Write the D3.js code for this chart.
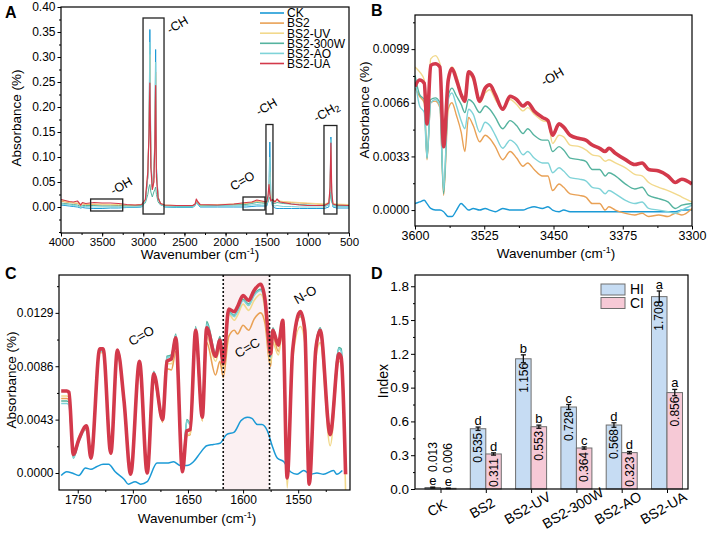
<!DOCTYPE html>
<html><head><meta charset="utf-8">
<script src="https://cdn.jsdelivr.net/npm/d3@7"></script>
<style>body{margin:0;background:#fff}svg{display:block}</style>
</head><body><svg id="c" width="708" height="542"></svg>
<script>
// ---------------- DATA ----------------
const seriesNames = ["CK","BS2","BS2-UV","BS2-300W","BS2-AO","BS2-UA"];

// Panel A: full spectra
const aWave = [4000,3950,3900,3850,3800,3760,3740,3700,3600,3500,3400,3300,3200,3100,3020,2975,2945,2930,2920,2908,2890,2872,2860,2850,2840,2820,2790,2740,2600,2400,2370,2355,2340,2310,2100,1900,1750,1680,1620,1560,1500,1485,1472,1462,1450,1430,1400,1375,1340,1300,1200,1100,1000,900,800,745,730,720,710,695,650,500];
const aCK   = [0.004,0.003,0.002,0.001,0.0,-0.002,-0.001,-0.002,-0.003,-0.003,-0.002,-0.002,-0.001,-0.001,0.0,0.01,0.06,0.16,0.355,0.10,0.04,0.06,0.14,0.315,0.08,0.02,0.006,0.0,-0.001,-0.001,0.003,0.009,0.006,0.0,0.0,0.0,0.0,0.001,0.002,0.002,0.002,0.01,0.04,0.13,0.02,0.002,-0.002,-0.003,-0.003,-0.003,-0.003,-0.003,-0.003,-0.003,-0.003,0.0,0.03,0.14,0.02,0.0,-0.002,-0.002];
const aBS2  = [0.012,0.010,0.009,0.008,0.007,0.003,0.006,0.005,0.005,0.004,0.004,0.003,0.003,0.003,0.004,0.012,0.06,0.15,0.30,0.09,0.035,0.05,0.12,0.27,0.07,0.018,0.006,0.003,0.002,0.002,0.005,0.012,0.008,0.003,0.004,0.005,0.007,0.009,0.011,0.01,0.009,0.015,0.03,0.07,0.02,0.012,0.011,0.013,0.011,0.010,0.009,0.008,0.007,0.006,0.005,0.008,0.03,0.12,0.02,0.006,0.005,0.004];
const aUV   = [0.014,0.012,0.010,0.009,0.008,0.004,0.007,0.006,0.006,0.006,0.005,0.005,0.004,0.004,0.005,0.014,0.07,0.16,0.305,0.09,0.04,0.06,0.13,0.265,0.07,0.02,0.007,0.004,0.003,0.003,0.006,0.013,0.009,0.004,0.005,0.006,0.008,0.010,0.012,0.011,0.010,0.016,0.035,0.06,0.022,0.014,0.012,0.014,0.012,0.011,0.010,0.009,0.008,0.007,0.006,0.009,0.035,0.115,0.025,0.007,0.006,0.005];
const a300W = [0.008,0.007,0.006,0.005,0.004,0.001,0.003,0.003,0.003,0.002,0.002,0.002,0.002,0.002,0.003,0.008,0.025,0.04,0.045,0.03,0.02,0.03,0.035,0.04,0.025,0.01,0.004,0.002,0.001,0.001,0.004,0.010,0.007,0.002,0.003,0.004,0.005,0.007,0.009,0.008,0.007,0.01,0.015,0.02,0.012,0.008,0.007,0.009,0.008,0.007,0.006,0.005,0.004,0.003,0.003,0.005,0.015,0.03,0.01,0.004,0.003,0.003];
const aAO   = [0.006,0.005,0.004,0.003,0.002,-0.001,0.001,0.001,0.0,0.0,0.0,0.0,0.0,0.0,0.001,0.01,0.06,0.16,0.33,0.09,0.04,0.06,0.13,0.29,0.07,0.02,0.005,0.001,0.0,0.0,0.003,0.009,0.006,0.001,0.002,0.002,0.003,0.004,0.005,0.004,0.004,0.012,0.035,0.10,0.02,0.004,0.002,0.003,0.002,0.001,0.001,0.0,0.0,0.0,0.0,0.004,0.03,0.135,0.02,0.002,0.001,0.001];
const aUA   = [0.015,0.013,0.011,0.010,0.012,0.004,0.009,0.007,0.009,0.008,0.008,0.007,0.005,0.004,0.005,0.015,0.07,0.15,0.248,0.08,0.035,0.05,0.12,0.243,0.06,0.018,0.007,0.004,0.003,0.003,0.006,0.016,0.011,0.005,0.004,0.006,0.009,0.010,0.014,0.012,0.010,0.022,0.045,0.025,0.012,0.015,0.010,0.016,0.010,0.009,0.006,0.004,0.003,0.003,0.003,0.008,0.04,0.128,0.03,0.006,0.004,0.003];
const aXTicks = [4000,3500,3000,2500,2000,1500,1000,500];
const aYTicks = [0,0.05,0.10,0.15,0.20,0.25,0.30,0.35,0.40];

// Panel B: -OH region
const bWave = [3600,3595,3590,3587,3583,3578,3573,3569,3564,3560,3555,3550,3546,3542,3537,3530,3524,3519,3513,3505,3497,3490,3483,3478,3471,3462,3456,3451,3444,3439,3432,3422,3415,3408,3400,3394,3390,3383,3372,3362,3354,3347,3336,3326,3318,3311,3300];
const bCK   = [0.0004,0.0005,0.0006,0.0004,0.0001,0.0000,0.0000,-0.0001,-0.0004,-0.0004,0.0000,0.0004,0.0002,0.0000,0.0001,0.0000,0.0001,0.0000,-0.0001,0.0001,0.0000,0.0000,0.0000,0.0001,0.0002,0.0001,0.0002,0.0000,-0.0001,0.0000,-0.0001,-0.0001,-0.0001,-0.0001,-0.0001,-0.0001,-0.0001,-0.0001,-0.0001,-0.0001,-0.0001,-0.0001,-0.0001,-0.0001,-0.0001,0.0000,0.0000];
const bBS2  = [0.0075,0.0070,0.0066,0.0031,0.0066,0.0067,0.0063,0.0009,0.0062,0.0066,0.0058,0.0048,0.0036,0.0057,0.0052,0.0042,0.0046,0.0044,0.0039,0.0031,0.0036,0.0032,0.0027,0.0029,0.0025,0.0021,0.0021,0.0012,0.0016,0.0014,0.0010,0.0009,0.0008,0.0004,0.0004,0.0000,0.0002,0.0000,-0.0002,-0.0003,-0.0002,-0.0004,-0.0003,-0.0004,-0.0002,-0.0003,0.0001];
const bUV   = [0.0088,0.0085,0.0080,0.0055,0.0093,0.0095,0.0090,0.0040,0.0082,0.0088,0.0083,0.0072,0.0066,0.0084,0.0080,0.0066,0.0072,0.0074,0.0068,0.0062,0.0068,0.0065,0.0061,0.0063,0.0059,0.0055,0.0054,0.0041,0.0046,0.0045,0.0040,0.0039,0.0037,0.0034,0.0033,0.0030,0.0031,0.0029,0.0026,0.0022,0.0021,0.0017,0.0014,0.0012,0.0010,0.0008,0.0005];
const b300W = [0.0083,0.0071,0.0068,0.0032,0.0068,0.0069,0.0066,0.0010,0.0070,0.0075,0.0070,0.0065,0.0060,0.0068,0.0066,0.0060,0.0064,0.0062,0.0057,0.0050,0.0055,0.0052,0.0047,0.0050,0.0046,0.0043,0.0043,0.0036,0.0039,0.0037,0.0032,0.0031,0.0030,0.0025,0.0025,0.0021,0.0023,0.0021,0.0016,0.0013,0.0014,0.0009,0.0007,0.0005,0.0001,0.0003,0.0004];
const bAO   = [0.0081,0.0064,0.0060,0.0032,0.0066,0.0068,0.0064,0.0012,0.0068,0.0072,0.0064,0.0055,0.0050,0.0062,0.0059,0.0048,0.0054,0.0052,0.0046,0.0038,0.0043,0.0040,0.0034,0.0036,0.0032,0.0029,0.0029,0.0023,0.0026,0.0024,0.0020,0.0019,0.0018,0.0014,0.0013,0.0010,0.0012,0.0010,0.0006,0.0004,0.0005,0.0001,0.0000,-0.0001,-0.0002,0.0000,0.0003];
const bUA   = [0.0076,0.0080,0.0078,0.0053,0.0089,0.0090,0.0088,0.0039,0.0080,0.0087,0.0080,0.0071,0.0067,0.0085,0.0082,0.0067,0.0075,0.0077,0.0071,0.0062,0.0070,0.0068,0.0064,0.0066,0.0061,0.0057,0.0055,0.0046,0.0053,0.0051,0.0046,0.0044,0.0043,0.0040,0.0038,0.0036,0.0038,0.0035,0.0031,0.0028,0.0029,0.0025,0.0024,0.0021,0.0017,0.0019,0.0016];
const bXTicks = [3600,3525,3450,3375,3300];
const bYTicks = [0,0.0033,0.0066,0.0099];

// Panel C: 1770-1500 region
const cWave = [1765,1760,1758,1754,1749,1742,1738,1730,1727,1720,1714,1708,1702,1694,1687,1681,1673,1669,1665,1661,1655,1651,1648,1643,1637,1633,1625,1621,1618,1613,1608,1605,1600,1595,1590,1584,1580,1577,1575,1573,1568,1564,1560,1555,1548,1544,1540,1534,1530,1521,1513,1511,1507];
const cBS2  = [0.0060,0.0060,0.0059,0.0013,0.0027,0.0035,0.0012,0.0098,0.0098,0.0016,0.0097,0.0056,-0.0001,0.0088,0.0000,0.0075,0.0041,0.0084,0.0083,0.0098,0.0001,0.0030,0.0031,0.0106,0.0042,0.0105,0.0079,0.0090,0.0077,0.0110,0.0115,0.0112,0.0119,0.0115,0.0124,0.0129,0.0120,0.0095,0.0086,0.0110,0.0098,0.0118,-0.0004,0.0097,0.0126,0.0112,-0.0008,0.0097,0.0112,0.0030,0.0093,0.0090,-0.0001];
const cUV   = [0.0062,0.0062,0.0061,0.0013,0.0029,0.0036,0.0012,0.0097,0.0097,0.0015,0.0096,0.0056,-0.0001,0.0088,0.0000,0.0078,0.0042,0.0088,0.0088,0.0104,0.0001,0.0030,0.0032,0.0110,0.0042,0.0110,0.0090,0.0100,0.0085,0.0128,0.0123,0.0127,0.0136,0.0131,0.0139,0.0144,0.0130,0.0100,0.0088,0.0105,0.0095,0.0115,-0.0012,0.0092,0.0118,0.0105,-0.0010,0.0093,0.0105,0.0022,0.0090,0.0088,-0.0015];
const c300W = [0.0058,0.0058,0.0057,0.0012,0.0027,0.0038,0.0012,0.0100,0.0100,0.0016,0.0098,0.0058,0.0000,0.0090,0.0001,0.0082,0.0044,0.0094,0.0095,0.0112,0.0002,0.0043,0.0040,0.0118,0.0047,0.0122,0.0097,0.0110,0.0090,0.0130,0.0127,0.0131,0.0140,0.0136,0.0144,0.0148,0.0136,0.0108,0.0094,0.0117,0.0104,0.0123,0.0000,0.0100,0.0128,0.0117,-0.0006,0.0102,0.0117,0.0034,0.0101,0.0100,0.0002];
const cAO   = [0.0056,0.0056,0.0055,0.0012,0.0025,0.0036,0.0012,0.0098,0.0098,0.0016,0.0097,0.0057,0.0000,0.0089,0.0001,0.0081,0.0044,0.0093,0.0094,0.0111,0.0002,0.0042,0.0039,0.0117,0.0046,0.0120,0.0096,0.0108,0.0089,0.0129,0.0126,0.0130,0.0139,0.0135,0.0143,0.0147,0.0135,0.0107,0.0093,0.0116,0.0103,0.0122,0.0000,0.0098,0.0127,0.0116,-0.0006,0.0101,0.0116,0.0033,0.0100,0.0098,0.0002];
const cUA   = [0.0066,0.0066,0.0065,0.0015,0.0027,0.0038,0.0012,0.0100,0.0100,0.0016,0.0099,0.0058,-0.0001,0.0090,0.0000,0.0080,0.0043,0.0090,0.0092,0.0109,0.0001,0.0034,0.0035,0.0115,0.0045,0.0117,0.0094,0.0107,0.0088,0.0132,0.0130,0.0134,0.0143,0.0139,0.0147,0.0152,0.0139,0.0109,0.0096,0.0115,0.0103,0.0123,-0.0004,0.0099,0.0130,0.0115,-0.0009,0.0100,0.0115,0.0031,0.0096,0.0093,-0.0001];
const cCKWave = [1765,1760,1755,1749,1743,1738,1733,1727,1722,1716,1708,1704,1698,1693,1687,1678,1669,1663,1657,1651,1645,1639,1633,1627,1621,1615,1608,1602,1596,1592,1587,1583,1578,1574,1569,1563,1557,1551,1545,1539,1533,1527,1518,1515,1510];
const cCK   = [-0.0002,0.0001,0.0000,-0.0002,0.0004,0.0003,0.0005,0.0007,0.0007,0.0001,-0.0005,-0.0009,-0.0007,-0.0009,-0.0007,0.0008,0.0008,0.0009,0.0006,0.0006,0.0009,0.0016,0.0022,0.0023,0.0024,0.0031,0.0033,0.0042,0.0045,0.0044,0.0039,0.0039,0.0034,0.0023,0.0012,0.0009,0.0001,-0.0001,0.0002,-0.0001,0.0000,-0.0001,0.0002,-0.0001,0.0002];
const cXTicks = [1750,1700,1650,1600,1550];
const cYTicks = [0,0.0043,0.0086,0.0129];
const cBand = [1618,1576];

// Panel D: indices
const categories = ["CK","BS2","BS2-UV","BS2-300W","BS2-AO","BS2-UA"];
const hiValues = [0.013,0.535,1.156,0.728,0.568,1.708];
const ciValues = [0.006,0.311,0.553,0.364,0.323,0.856];
const hiErr = [0.004,0.015,0.035,0.022,0.02,0.05];
const ciErr = [0.002,0.01,0.014,0.01,0.01,0.028];
const hiSig = ["e","d","b","c","d","a"];
const ciSig = ["e","d","b","c","d","a"];
const dYTicks = [0,0.3,0.6,0.9,1.2,1.5,1.8];

// ---------------- STYLE ----------------
const FF = '"Liberation Sans", Arial, Helvetica, sans-serif';
const colors = {"CK":"#1b9ad6","BS2":"#e9a155","BS2-UV":"#f2d98c","BS2-300W":"#55b39f","BS2-AO":"#7fd3d8","BS2-UA":"#d3394b"};
const svg = d3.select("#c").attr("font-family", FF);

function styleAxis(sel, fs){
  sel.select(".domain").remove();
  sel.selectAll(".tick line").attr("stroke","#000").attr("stroke-width",1);
  sel.selectAll(".tick text").attr("font-size",fs).attr("fill","#000").attr("font-family",FF);
}
function range(a,b,s){const r=[];for(let v=a;v<=b+1e-9;v+=s)r.push(+v.toFixed(6));return r;}

function spectrumPanel(cfg){
  const x = d3.scaleLinear().domain(cfg.xd).range([cfg.l,cfg.r]);
  const y = d3.scaleLinear().domain(cfg.yd).range([cfg.b,cfg.t]);
  const g = svg.append("g");
  const cid = "clip"+cfg.id;
  svg.append("clipPath").attr("id",cid).append("rect")
    .attr("x",cfg.l).attr("y",cfg.t).attr("width",cfg.r-cfg.l).attr("height",cfg.b-cfg.t);
  const under = g.append("g");
  const plot = g.append("g").attr("clip-path",`url(#${cid})`);
  g.append("g").attr("transform",`translate(0,${cfg.b})`)
    .call(d3.axisBottom(x).tickValues(cfg.xm).tickSize(2).tickFormat("")).call(s=>styleAxis(s,cfg.fs));
  g.append("g").attr("transform",`translate(0,${cfg.b})`)
    .call(d3.axisBottom(x).tickValues(cfg.xt).tickSize(3.5).tickPadding(1.5).tickFormat(d3.format("d"))).call(s=>styleAxis(s,cfg.xfs||cfg.fs));
  g.append("g").attr("transform",`translate(${cfg.l},0)`)
    .call(d3.axisLeft(y).tickValues(cfg.ym).tickSize(2).tickFormat("")).call(s=>styleAxis(s,cfg.fs));
  g.append("g").attr("transform",`translate(${cfg.l},0)`)
    .call(d3.axisLeft(y).tickValues(cfg.yt).tickSize(3.5).tickPadding(2).tickFormat(d3.format(cfg.yf))).call(s=>styleAxis(s,cfg.fs));
  const xt = g.append("text").attr("x",cfg.xtx).attr("y",cfg.xty).attr("text-anchor","middle").attr("font-size",13.5);
  xt.append("tspan").text("Wavenumber (cm");
  xt.append("tspan").attr("dy",-5).attr("font-size",9).text("-1");
  xt.append("tspan").attr("dy",5).text(")");
  g.append("text").attr("transform",`translate(${cfg.ytx},${cfg.yty}) rotate(-90)`)
    .attr("text-anchor","middle").attr("font-size",13.5).text("Absorbance (%)");
  g.append("text").attr("x",cfg.lab[0]).attr("y",cfg.lab[1]).attr("font-size",16).attr("font-weight","bold").text(cfg.label);
  return {g,x,y,plot,under,frame:()=>g.append("rect").attr("x",cfg.l).attr("y",cfg.t).attr("width",cfg.r-cfg.l).attr("height",cfg.b-cfg.t).attr("fill","none").attr("stroke","#000").attr("stroke-width",1.2)};
}

function drawLines(P, waves, list, widths, curve){
  list.forEach((vals,i)=>{
    const w = Array.isArray(waves[0]) ? waves[i] : waves;
    const pts = w.map((wv,j)=>[wv,vals[j]]).filter(p=>p[1]!==undefined);
    P.plot.append("path").datum(pts)
      .attr("fill","none").attr("stroke",colors[seriesNames[i]])
      .attr("stroke-width",widths[i]).attr("stroke-linejoin","round")
      .attr("d",d3.line().x(p=>P.x(p[0])).y(p=>P.y(p[1])).curve(curve));
  });
}
function rotLabel(g, x, y, txt, fs, sub){
  const t = g.append("text").attr("transform",`translate(${x},${y}) rotate(-30)`)
    .attr("text-anchor","middle").attr("dominant-baseline","middle").attr("font-size",fs);
  t.append("tspan").text(txt);
  if(sub){ t.append("tspan").attr("dy",3).attr("font-size",fs*0.75).text(sub); }
}

// ---------------- PANEL A ----------------
const A = spectrumPanel({id:"A",l:61,r:349,t:7,b:233,xd:[4000,500],yd:[-0.052,0.40],
  xt:aXTicks,xm:range(500,4000,250),yt:aYTicks,ym:range(-0.05,0.40,0.025),yf:".2f",fs:12,xfs:11.5,
  xtx:200,xty:259,ytx:21,yty:118,lab:[5,18],label:"A"});
drawLines(A, aWave, [aCK,aBS2,aUV,a300W,aAO,aUA], [1,1,1,1,1,1.2], d3.curveLinear);
const aBoxes = [[3640,3250,0.016,-0.008],[3003,2748,0.378,-0.014],[1788,1521,0.020,-0.006],[1509,1424,0.165,-0.014],[804,647,0.163,-0.014]];
aBoxes.forEach(bx=>{
  A.g.append("rect").attr("x",A.x(bx[0])).attr("y",A.y(bx[2]))
    .attr("width",A.x(bx[1])-A.x(bx[0])).attr("height",A.y(bx[3])-A.y(bx[2]))
    .attr("fill","none").attr("stroke","#222").attr("stroke-width",1.3);
});
rotLabel(A.g,122,187,"-OH",12.5);
rotLabel(A.g,178,26,"-CH",12.5);
rotLabel(A.g,243,182,"C=O",12.5);
rotLabel(A.g,267,108,"-CH",12.5);
rotLabel(A.g,327,113,"-CH",12.5,"2");
seriesNames.forEach((n,i)=>{
  const yy = 13 + i*10.1;
  A.g.append("line").attr("x1",260).attr("x2",284).attr("y1",yy).attr("y2",yy)
    .attr("stroke",colors[n]).attr("stroke-width",1.6);
  A.g.append("text").attr("x",287).attr("y",yy+4.3).attr("font-size",12).text(n);
});
A.frame();

// ---------------- PANEL B ----------------
const B = spectrumPanel({id:"B",l:415,r:692,t:15,b:226,xd:[3600,3300],yd:[-0.00098,0.0120],
  xt:bXTicks,xm:[3562.5,3487.5,3412.5,3337.5],yt:bYTicks,ym:[0.00165,0.00495,0.00825,0.01155],yf:".4f",fs:12,xfs:12.5,
  xtx:556,xty:258,ytx:369,yty:110,lab:[371,16],label:"B"});
drawLines(B, bWave, [bCK,bBS2,bUV,b300W,bAO,bUA], [1.4,1.4,1.4,1.4,1.4,3.6], d3.curveMonotoneX);
rotLabel(B.g,553,78,"-OH",13);
B.frame();

// ---------------- PANEL C ----------------
const C = spectrumPanel({id:"C",l:59,r:350,t:275,b:490,xd:[1767,1503],yd:[-0.00137,0.01595],
  xt:cXTicks,xm:[1725,1675,1625,1575,1525],yt:cYTicks,ym:[0.00215,0.00645,0.01075,0.01505],yf:".4f",fs:12,
  xtx:197,xty:523,ytx:16,yty:380,lab:[5,279],label:"C"});
C.under.append("rect").attr("x",C.x(cBand[0])).attr("y",275).attr("width",C.x(cBand[1])-C.x(cBand[0])).attr("height",215)
  .attr("fill","#fbf0f2");
drawLines(C, [cCKWave,cWave,cWave,cWave,cWave,cWave], [cCK,cBS2,cUV,c300W,cAO,cUA], [1.5,1.6,1.6,1.6,1.6,3.6], d3.curveMonotoneX);
cBand.forEach(w=>{
  C.g.append("line").attr("x1",C.x(w)).attr("x2",C.x(w)).attr("y1",275).attr("y2",490)
    .attr("stroke","#111").attr("stroke-width",1.6).attr("stroke-dasharray","2,2");
});
rotLabel(C.g,142,337,"C=O",13);
rotLabel(C.g,248,349,"C=C",13);
rotLabel(C.g,306,296,"N-O",13);
C.frame();

// ---------------- PANEL D ----------------
(function(){
  const l=415,r=688,t=275,b=489;
  const g = svg.append("g");
  const x = d3.scalePoint().domain(categories).range([440.5,667]);
  const y = d3.scaleLinear().domain([0,1.9]).range([b,t]);
  const bw = 15.5;
  const groups = [
    {vals:hiValues, err:hiErr, sig:hiSig, fill:"#c6dcf3", off:-bw},
    {vals:ciValues, err:ciErr, sig:ciSig, fill:"#f6c9d6", off:0}
  ];
  g.append("g").attr("transform",`translate(${l},0)`)
    .call(d3.axisLeft(y).tickValues(range(0.15,1.65,0.3)).tickSize(2).tickFormat("")).call(s=>styleAxis(s,13.5));
  g.append("g").attr("transform",`translate(${l},0)`)
    .call(d3.axisLeft(y).tickValues(dYTicks).tickSize(4).tickPadding(2).tickFormat(d3.format(".1f"))).call(s=>styleAxis(s,13.5));
  const xa = g.append("g").attr("transform",`translate(0,${b})`)
    .call(d3.axisBottom(x).tickSize(4).tickFormat(""));
  styleAxis(xa,13);
  categories.forEach(c=>{
    g.append("text").attr("transform",`translate(${x(c)-3},${b+20}) rotate(-30)`)
      .attr("text-anchor","middle").attr("dominant-baseline","middle").attr("font-size",14).text(c);
  });
  groups.forEach(G=>{
    categories.forEach((c,i)=>{
      const v=G.vals[i], e=G.err[i], cx=x(c)+G.off+bw/2;
      g.append("rect").attr("x",x(c)+G.off).attr("y",y(v)).attr("width",bw).attr("height",y(0)-y(v))
        .attr("fill",G.fill).attr("stroke","#6e6e6e").attr("stroke-width",1);
      g.append("line").attr("x1",cx).attr("x2",cx).attr("y1",y(v-e)).attr("y2",y(v+e)).attr("stroke","#111").attr("stroke-width",1.3);
      [v-e,v+e].forEach(q=>g.append("line").attr("x1",cx-2.5).attr("x2",cx+2.5).attr("y1",y(q)).attr("y2",y(q)).attr("stroke","#111").attr("stroke-width",1.3));
      g.append("text").attr("x",cx).attr("y",y(v+e)-2).attr("text-anchor","middle").attr("font-size",13).text(G.sig[i]);
      const hpx = y(0)-y(v);
      if(hpx>25){
        g.append("text").attr("transform",`translate(${cx+4.2},${y(v)+4}) rotate(-90)`)
          .attr("text-anchor","end").attr("font-size",12).text(v.toFixed(3));
      } else {
        g.append("text").attr("transform",`translate(${cx+4.2},${y(v+e)-15}) rotate(-90)`)
          .attr("text-anchor","start").attr("font-size",12).text(v.toFixed(3));
      }
    });
  });
  [["HI","#c6dcf3"],["CI","#f6c9d6"]].forEach((d,i)=>{
    g.append("rect").attr("x",601).attr("y",284+i*13.5).attr("width",24).attr("height",11)
      .attr("fill",d[1]).attr("stroke","#6e6e6e").attr("stroke-width",1);
    g.append("text").attr("x",630).attr("y",294+i*13.5).attr("font-size",14).text(d[0]);
  });
  g.append("text").attr("transform",`translate(388,381) rotate(-90)`).attr("text-anchor","middle").attr("font-size",14).text("Index");
  g.append("text").attr("x",371).attr("y",279).attr("font-size",16).attr("font-weight","bold").text("D");
  g.append("rect").attr("x",l).attr("y",t).attr("width",r-l).attr("height",b-t).attr("fill","none").attr("stroke","#000").attr("stroke-width",1.2);
})();
</script>
</body></html>
